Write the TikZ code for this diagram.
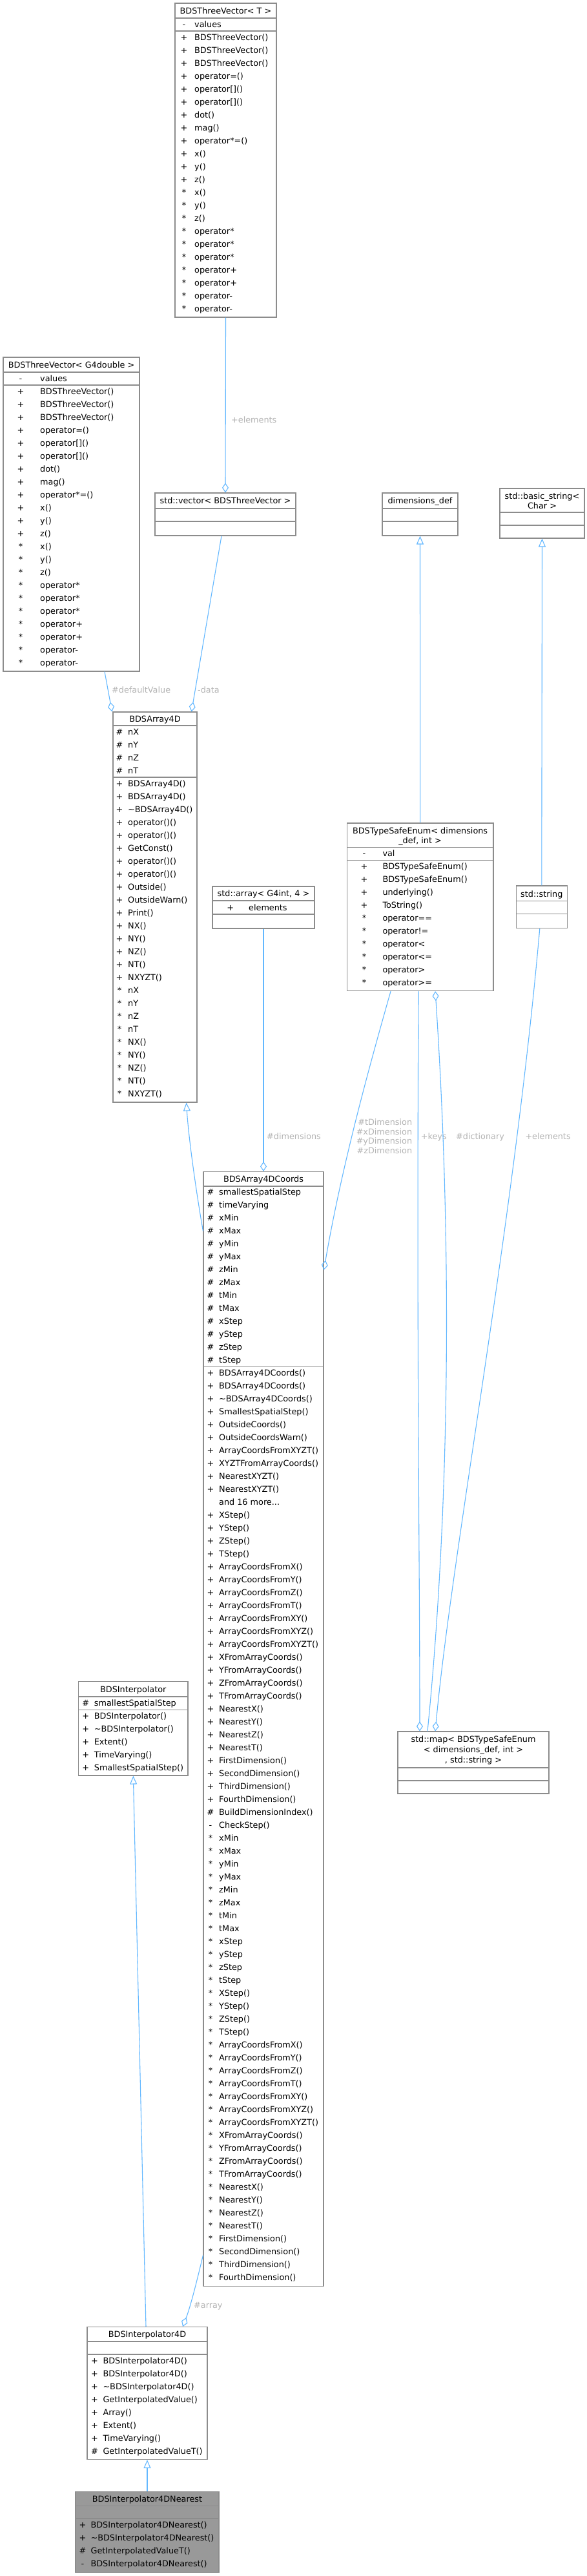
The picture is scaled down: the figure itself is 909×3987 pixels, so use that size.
\documentclass[tikz,border=0pt]{standalone}
\usepackage{fontspec}
\setmainfont{DejaVu Sans}
\usetikzlibrary{arrows.meta,fit,calc}
\definecolor{edgeblue}{HTML}{63B8FF}
\definecolor{boxgray}{HTML}{8C8C8C}
\definecolor{lblgray}{HTML}{B4B4B4}
\definecolor{fillgray}{HTML}{999999}
\newcommand\fs{\fontsize{12.8}{15}\selectfont}
\newcommand\mdots{...}
\tikzset{
  cls/.style={draw=boxgray, line width=1.1pt, inner sep=0pt, fill=white},
  sepl/.style={draw=boxgray, line width=1.1pt},
  tx/.style={anchor=base west, inner sep=0pt, font=\fs, text=black},
  mk/.style={anchor=base, inner sep=0pt, font=\fs, text=black},
  ttl/.style={anchor=base, inner sep=0pt, font=\fs, text=black},
  elbl/.style={anchor=base west, inner sep=0pt, font=\fs, text=lblgray},
  elblr/.style={anchor=base east, inner sep=0pt, font=\fs, text=lblgray},
  inh/.style={draw=edgeblue, line width=1.1pt, -{Triangle[open,length=13pt,width=11pt]}},
  agg/.style={draw=edgeblue, line width=1.1pt, -{Diamond[open,length=15pt,width=10pt]}},
}
% #1 name prefix, #2 marker x, #3 text x, #4 first row centre y, #5 list marker/text
\newcommand\rowlist[5]{%
  \foreach \m/\t [count=\i from 0] in {#5} {
    \node[mk] (#1m\i) at (#2, #4+20*\i+4.6) {\m};
    \node[tx] (#1t\i) at (#3, #4+20*\i+4.6) {\t};
  }}
\begin{document}
\begin{tikzpicture}[x=1pt,y=-1pt]
\useasboundingbox (0,0) rectangle (909,3987);
\fill[white] (0,0) rectangle (909,3987);

% ---------- BDSThreeVector< T >
\node[cls, fit={(271,5) (428,491)}] (A) {};
\draw[sepl] (271,28) -- (428,28); \draw[sepl] (271,48) -- (428,48);
\node[ttl] (A-h) at (349.5,21.6) {BDSThreeVector< T >};
\rowlist{A-a}{285}{301}{38}{-/values}
\rowlist{A-o}{285}{301}{58}{+/BDSThreeVector(), +/BDSThreeVector(), +/BDSThreeVector(), +/operator=(), +/operator[](), +/operator[](), +/dot(), +/mag(), +/operator*=(), +/x(), +/y(), +/z(), */x(), */y(), */z(), */operator*, */operator*, */operator*, */operator+, */operator+, */operator-, */operator-}

% ---------- BDSThreeVector< G4double >
\node[cls, fit={(5,553) (216,1039)}] (B) {};
\draw[sepl] (5,576) -- (216,576); \draw[sepl] (5,596) -- (216,596);
\node[ttl] (B-h) at (110.5,569.6) {BDSThreeVector< G4double >};
\rowlist{B-a}{32}{62}{586}{-/values}
\rowlist{B-o}{32}{62}{606}{+/BDSThreeVector(), +/BDSThreeVector(), +/BDSThreeVector(), +/operator=(), +/operator[](), +/operator[](), +/dot(), +/mag(), +/operator*=(), +/x(), +/y(), +/z(), */x(), */y(), */z(), */operator*, */operator*, */operator*, */operator+, */operator+, */operator-, */operator-}

% ---------- std::vector< BDSThreeVector >
\node[cls, fit={(240,763) (458,829)}] (C) {};
\draw[sepl] (240,787) -- (458,787); \draw[sepl] (240,807) -- (458,807);
\node[ttl] (C-h) at (349,779.6) {std::vector< BDSThreeVector >};

% ---------- dimensions_def
\node[cls, fit={(592,763) (709,829)}] (dims) {};
\draw[sepl] (592,787) -- (709,787); \draw[sepl] (592,807) -- (709,807);
\node[ttl] (dims-h) at (650.5,779.6) {dimensions\_def};

% ---------- std::basic_string< Char >
\node[cls, fit={(774,756) (905,833)}] (bstr) {};
\draw[sepl] (774,793) -- (905,793); \draw[sepl] (774,813) -- (905,813);
\node[ttl] (bstr-h1) at (839.5,772.6) {std::basic\_string<};
\node[ttl] (bstr-h2) at (839.5,787.6) {Char >};

% ---------- BDSArray4D
\node[cls, fit={(175,1102) (305,1706)}] (D) {};
\draw[sepl] (175,1123) -- (305,1123); \draw[sepl] (175,1203) -- (305,1203);
\node[ttl] (D-h) at (240,1117.6) {BDSArray4D};
\rowlist{D-a}{185}{198}{1133}{\#/nX, \#/nY, \#/nZ, \#/nT}
\rowlist{D-o}{185}{198}{1213}{+/BDSArray4D(), +/BDSArray4D(), +/\textasciitilde BDSArray4D(), +/operator()(), +/operator()(), +/GetConst(), +/operator()(), +/operator()(), +/Outside(), +/OutsideWarn(), +/Print(), +/NX(), +/NY(), +/NZ(), +/NT(), +/NXYZT(), */nX, */nY, */nZ, */nT, */NX(), */NY(), */NZ(), */NT(), */NXYZT()}

% ---------- std::array< G4int, 4 >
\node[cls, fit={(329,1372) (487,1437)}] (arr) {};
\draw[sepl] (329,1394) -- (487,1394); \draw[sepl] (329,1415) -- (487,1415);
\node[ttl] (arr-h) at (408,1387.6) {std::array< G4int, 4 >};
\rowlist{arr-a}{356.7}{385}{1404.5}{+/elements}

% ---------- BDSTypeSafeEnum< dimensions_def, int >
\node[cls, fit={(537.3,1274) (764,1533.6)}] (F) {};
\draw[sepl] (537.3,1311.7) -- (764,1311.7); \draw[sepl] (537.3,1331.6) -- (764,1331.6);
\node[ttl] (F-h1) at (650.6,1290.6) {BDSTypeSafeEnum< dimensions};
\node[ttl] (F-h2) at (650.6,1305.2) {\_def, int >};
\rowlist{F-a}{564}{592.3}{1320.5}{-/val}
\rowlist{F-o}{564}{592.3}{1340.5}{+/BDSTypeSafeEnum(), +/BDSTypeSafeEnum(), +/underlying(), +/ToString(), */operator==, */operator!=, */operator<, */operator<=, */operator>, */operator>=}

% ---------- std::string
\node[cls, fit={(799.3,1371) (878.3,1436.8)}] (str) {};
\draw[sepl] (799.3,1394.7) -- (878.3,1394.7); \draw[sepl] (799.3,1414.2) -- (878.3,1414.2);
\node[ttl] (str-h) at (838.8,1388.2) {std::string};

% ---------- BDSArray4DCoords
\node[cls, fit={(315,1813.5) (501,3538.5)}] (E) {};
\draw[sepl] (315,1836) -- (501,1836); \draw[sepl] (315,2115.5) -- (501,2115.5);
\node[ttl] (E-h) at (408,1829) {BDSArray4DCoords};
\rowlist{E-a}{326}{339}{1845}{\#/smallestSpatialStep, \#/timeVarying, \#/xMin, \#/xMax, \#/yMin, \#/yMax, \#/zMin, \#/zMax, \#/tMin, \#/tMax, \#/xStep, \#/yStep, \#/zStep, \#/tStep}
\rowlist{E-o}{326}{339}{2125}{+/BDSArray4DCoords(), +/BDSArray4DCoords(), +/\textasciitilde BDSArray4DCoords(), +/SmallestSpatialStep(), +/OutsideCoords(), +/OutsideCoordsWarn(), +/ArrayCoordsFromXYZT(), +/XYZTFromArrayCoords(), +/NearestXYZT(), +/NearestXYZT(), {}/and 16 more\mdots, +/XStep(), +/YStep(), +/ZStep(), +/TStep(), +/ArrayCoordsFromX(), +/ArrayCoordsFromY(), +/ArrayCoordsFromZ(), +/ArrayCoordsFromT(), +/ArrayCoordsFromXY(), +/ArrayCoordsFromXYZ(), +/ArrayCoordsFromXYZT(), +/XFromArrayCoords(), +/YFromArrayCoords(), +/ZFromArrayCoords(), +/TFromArrayCoords(), +/NearestX(), +/NearestY(), +/NearestZ(), +/NearestT(), +/FirstDimension(), +/SecondDimension(), +/ThirdDimension(), +/FourthDimension(), \#/BuildDimensionIndex(), -/CheckStep(), */xMin, */xMax, */yMin, */yMax, */zMin, */zMax, */tMin, */tMax, */xStep, */yStep, */zStep, */tStep, */XStep(), */YStep(), */ZStep(), */TStep(), */ArrayCoordsFromX(), */ArrayCoordsFromY(), */ArrayCoordsFromZ(), */ArrayCoordsFromT(), */ArrayCoordsFromXY(), */ArrayCoordsFromXYZ(), */ArrayCoordsFromXYZT(), */XFromArrayCoords(), */YFromArrayCoords(), */ZFromArrayCoords(), */TFromArrayCoords(), */NearestX(), */NearestY(), */NearestZ(), */NearestT(), */FirstDimension(), */SecondDimension(), */ThirdDimension(), */FourthDimension()}

% ---------- BDSInterpolator
\node[cls, fit={(121.7,2602.7) (291,2748)}] (I) {};
\draw[sepl] (121.7,2626) -- (291,2626); \draw[sepl] (121.7,2646.7) -- (291,2646.7);
\node[ttl] (I-h) at (206.3,2619) {BDSInterpolator};
\rowlist{I-a}{132.7}{145.7}{2636}{\#/smallestSpatialStep}
\rowlist{I-o}{132.7}{145.7}{2656}{+/BDSInterpolator(), +/\textasciitilde BDSInterpolator(), +/Extent(), +/TimeVarying(), +/SmallestSpatialStep()}

% ---------- std::map
\node[cls, fit={(616,2680) (850,2776)}] (map) {};
\draw[sepl] (616,2736) -- (850,2736); \draw[sepl] (616,2756) -- (850,2756);
\node[ttl] (map-h1) at (733,2696.6) {std::map< BDSTypeSafeEnum};
\node[ttl] (map-h2) at (733,2712.6) {< dimensions\_def, int >};
\node[ttl] (map-h3) at (733,2728.6) {, std::string >};

% ---------- BDSInterpolator4D
\node[cls, fit={(135,3601.5) (321,3806.6)}] (I4) {};
\draw[sepl] (135,3624) -- (321,3624); \draw[sepl] (135,3644) -- (321,3644);
\node[ttl] (I4-h) at (228,3617.6) {BDSInterpolator4D};
\rowlist{I4-o}{146.4}{159.3}{3653.5}{+/BDSInterpolator4D(), +/BDSInterpolator4D(), +/\textasciitilde BDSInterpolator4D(), +/GetInterpolatedValue(), +/Array(), +/Extent(), +/TimeVarying(), \#/GetInterpolatedValueT()}

% ---------- BDSInterpolator4DNearest
\node[cls, fill=fillgray, fit={(117,3856.5) (339,3981.4)}] (N) {};
\draw[sepl] (117,3878.4) -- (339,3878.4); \draw[sepl] (117,3898) -- (339,3898);
\node[ttl] (N-h) at (228,3872.1) {BDSInterpolator4DNearest};
\rowlist{N-o}{128}{140.4}{3907.5}{+/BDSInterpolator4DNearest(), +/\textasciitilde BDSInterpolator4DNearest(), \#/GetInterpolatedValueT(), -/BDSInterpolator4DNearest()}

% ================= connectors
\draw[agg] (A.south) -- (C.north);
\node[elbl] (l-el1) at (358,654.6) {+elements};

\draw[agg] ([xshift=51.5]B.south) -- ([xshift=-1]D.north west);
\node[elbl] (l-def) at (173,1072.6) {\#defaultValue};
\draw[agg] ([xshift=-6]C.south) -- ([xshift=-9]D.north east);
\node[elbl] (l-data) at (306,1072.6) {-data};

\draw[inh] ([yshift=-92.5]E.north west) .. controls (303,1840) and (292,1760) .. ([xshift=-17]D.south east);

\draw[agg] (arr.south) -- (E.north);
\node[elbl] (l-dimn) at (413,1763.6) {\#dimensions};

\draw[inh] (F.north) -- (dims.south);
\draw[inh] (str.north) -- (bstr.south);

\draw[agg] ([xshift=-45.6]F.south) .. controls (575,1640) and (530,1800) .. ([yshift=-152.5]E.north east);
\node[elblr] (l-dt) at (638.3,1741.1) {\#tDimension};
\node[elblr] (l-dx) at (638.3,1756) {\#xDimension};
\node[elblr] (l-dy) at (638.3,1770.9) {\#yDimension};
\node[elblr] (l-dz) at (638.3,1785.6) {\#zDimension};

\draw[agg] ([xshift=-2.6]F.south) .. controls (645,2100) and (650,2400) .. ([xshift=-83]map.north);
\node[elbl] (l-keys) at (651.7,1763.3) {+keys};
\draw[agg] ([xshift=-71]map.north) .. controls (690,2400) and (705,2000) .. ([xshift=23.4]F.south);
\node[elbl] (l-dict) at (706,1763.3) {\#dictionary};
\draw[agg] ([xshift=-3]str.south) .. controls (795,1900) and (700,2400) .. ([xshift=-59]map.north);
\node[elbl] (l-el2) at (813.3,1763.3) {+elements};

\draw[agg] ([yshift=-1677.5]E.north west) .. controls (305,3530) and (295,3570) .. ([xshift=55]I4.north);
\node[elbl] (l-arr) at (300,3572.6) {\#array};

\draw[inh] ([xshift=-2]I4.north) -- (I.south);
\draw[inh] (N.north) -- (I4.south);
\end{tikzpicture}
\end{document}
